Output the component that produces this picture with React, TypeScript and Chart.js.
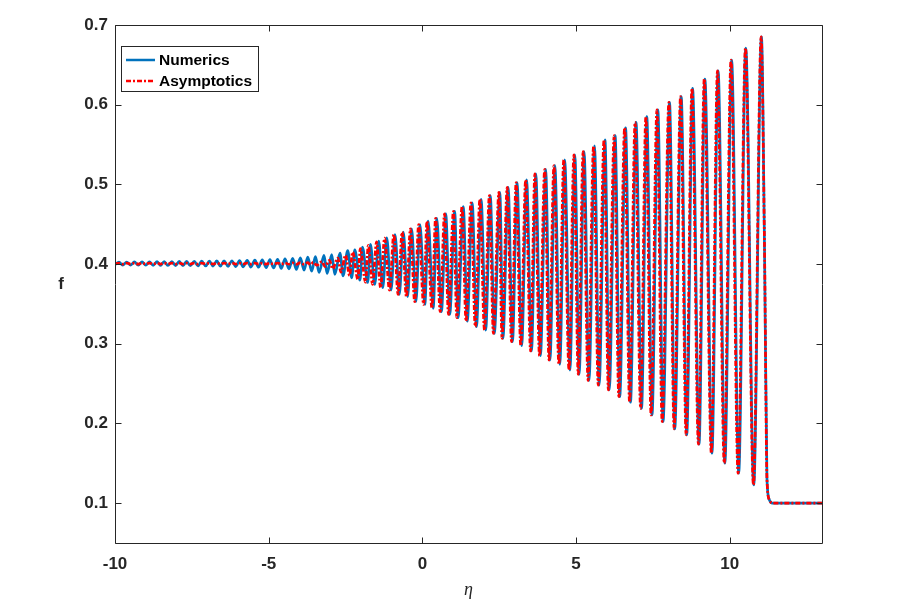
import React, { useEffect, useRef } from "react";
import { Chart, registerables } from "chart.js";

Chart.register(...registerables);

// ---- data ----
const seriesNames = ["Numerics", "Asymptotics"];

// Numerics: eta position of each wave crest
const numericsCrestEta = [
  -9.87, -9.62, -9.37, -9.12, -8.88, -8.63, -8.40, -8.15, -7.91, -7.67,
  -7.42, -7.18, -6.93, -6.69, -6.45, -6.20, -5.95, -5.70, -5.45, -5.21,
  -4.96, -4.71, -4.47, -4.22, -3.97, -3.73, -3.48, -3.20, -2.95, -2.68,
  -2.43, -2.20, -1.95, -1.69, -1.42, -1.16, -0.89, -0.62, -0.35, -0.08,
  0.19, 0.47, 0.76, 1.05, 1.33, 1.62, 1.91, 2.21, 2.52, 2.79,
  3.08, 3.39, 3.69, 4.01, 4.31, 4.63, 4.96, 5.26, 5.60, 5.94,
  6.27, 6.61, 6.95, 7.30, 7.66, 8.04, 8.42, 8.79, 9.19, 9.62,
  10.06, 10.52, 11.03,
];

// Numerics: eta position of the trough preceding each crest
const numericsTroughEta = [
  -10.0, -9.75, -9.49, -9.24, -9.00, -8.76, -8.52, -8.28, -8.03, -7.79,
  -7.55, -7.30, -7.05, -6.81, -6.57, -6.32, -6.07, -5.83, -5.58, -5.33,
  -5.08, -4.84, -4.59, -4.34, -4.10, -3.85, -3.60, -3.36, -3.10, -2.85,
  -2.58, -2.30, -2.03, -1.78, -1.55, -1.29, -1.02, -0.75, -0.48, -0.21,
  0.08, 0.35, 0.62, 0.89, 1.16, 1.46, 1.76, 2.06, 2.34, 2.62,
  2.93, 3.23, 3.55, 3.84, 4.15, 4.47, 4.80, 5.10, 5.42, 5.75,
  6.08, 6.42, 6.77, 7.13, 7.47, 7.83, 8.21, 8.60, 9.00, 9.42,
  9.84, 10.29, 10.78,
];

const numericsCrest = [
  0.4025, 0.4026, 0.4027, 0.4028, 0.4029, 0.4030, 0.4031, 0.4032, 0.4033, 0.4034,
  0.4035, 0.4036, 0.4037, 0.4039, 0.4040, 0.4042, 0.4044, 0.4046, 0.4049, 0.4052,
  0.4056, 0.4060, 0.4065, 0.4071, 0.4078, 0.4086, 0.4095, 0.4108, 0.4120, 0.4137,
  0.4170, 0.4179, 0.4212, 0.4246, 0.4287, 0.4330, 0.4371, 0.4400, 0.4442, 0.4496,
  0.4538, 0.4575, 0.4630, 0.4663, 0.4722, 0.4768, 0.4813, 0.4860, 0.4901, 0.4964,
  0.5023, 0.5056, 0.5132, 0.5189, 0.5236, 0.5307, 0.5370, 0.5411, 0.5482, 0.5558,
  0.5612, 0.5708, 0.5778, 0.5850, 0.5934, 0.6029, 0.6103, 0.6204, 0.6322, 0.6426,
  0.6560, 0.6711, 0.6852,
];

const numericsTrough = [
  0.3995, 0.3988, 0.3987, 0.3986, 0.3985, 0.3984, 0.3983, 0.3982, 0.3981, 0.3980,
  0.3979, 0.3978, 0.3976, 0.3975, 0.3973, 0.3971, 0.3969, 0.3966, 0.3963, 0.3960,
  0.3956, 0.3951, 0.3946, 0.3940, 0.3933, 0.3924, 0.3911, 0.3895, 0.3882, 0.3870,
  0.3853, 0.3828, 0.3798, 0.3769, 0.3744, 0.3703, 0.3673, 0.3619, 0.3590, 0.3528,
  0.3494, 0.3444, 0.3402, 0.3368, 0.3327, 0.3284, 0.3214, 0.3172, 0.3130, 0.3068,
  0.3026, 0.2976, 0.2909, 0.2851, 0.2796, 0.2742, 0.2670, 0.2617, 0.2538, 0.2482,
  0.2420, 0.2337, 0.2266, 0.2190, 0.2107, 0.2024, 0.1931, 0.1858, 0.1739, 0.1627,
  0.1501, 0.1376, 0.1229,
];

// Asymptotics: crests sit slightly ahead (to the left) of the numerical ones
const asymptoticsCrestEta = [
  -9.87, -9.62, -9.37, -9.12, -8.88, -8.63, -8.40, -8.15, -7.91, -7.67,
  -7.42, -7.18, -6.93, -6.69, -6.45, -6.20, -5.95, -5.70, -5.45, -5.21,
  -4.96, -4.71, -4.47, -4.22, -3.97, -3.73, -3.55, -3.27, -3.02, -2.75,
  -2.50, -2.27, -2.02, -1.76, -1.49, -1.23, -0.93, -0.66, -0.39, -0.12,
  0.15, 0.43, 0.72, 1.01, 1.29, 1.58, 1.87, 2.18, 2.49, 2.76,
  3.05, 3.36, 3.66, 3.98, 4.28, 4.60, 4.93, 5.23, 5.57, 5.91,
  6.24, 6.58, 6.92, 7.27, 7.63, 8.02, 8.40, 8.77, 9.17, 9.60,
  10.04, 10.51, 11.02,
];

const asymptoticsTroughEta = [
  -10.0, -9.75, -9.49, -9.24, -9.00, -8.76, -8.52, -8.28, -8.03, -7.79,
  -7.55, -7.30, -7.05, -6.81, -6.57, -6.32, -6.07, -5.83, -5.58, -5.33,
  -5.08, -4.84, -4.59, -4.34, -4.10, -3.85, -3.64, -3.43, -3.17, -2.92,
  -2.65, -2.37, -2.10, -1.85, -1.62, -1.36, -1.07, -0.79, -0.52, -0.25,
  0.04, 0.31, 0.58, 0.85, 1.12, 1.42, 1.72, 2.02, 2.31, 2.59,
  2.90, 3.20, 3.52, 3.81, 4.12, 4.44, 4.77, 5.07, 5.39, 5.72,
  6.05, 6.39, 6.74, 7.10, 7.44, 7.80, 8.19, 8.58, 8.98, 9.40,
  9.82, 10.27, 10.77,
];

const asymptoticsCrest = [
  0.4012, 0.4012, 0.4012, 0.4012, 0.4012, 0.4012, 0.4012, 0.4012, 0.4012, 0.4012,
  0.4012, 0.4012, 0.4012, 0.4012, 0.4012, 0.4012, 0.4012, 0.4012, 0.4012, 0.4012,
  0.4012, 0.4013, 0.4014, 0.4015, 0.4017, 0.4019, 0.4022, 0.4032, 0.4048, 0.4075,
  0.4110, 0.4150, 0.4195, 0.4235, 0.4280, 0.4325, 0.4371, 0.4400, 0.4442, 0.4496,
  0.4538, 0.4575, 0.4630, 0.4663, 0.4722, 0.4768, 0.4813, 0.4860, 0.4901, 0.4964,
  0.5023, 0.5056, 0.5132, 0.5189, 0.5236, 0.5307, 0.5370, 0.5411, 0.5482, 0.5558,
  0.5612, 0.5708, 0.5778, 0.5850, 0.5934, 0.6029, 0.6103, 0.6204, 0.6322, 0.6426,
  0.6560, 0.6711, 0.6852,
];

const asymptoticsTrough = [
  0.4002, 0.4000, 0.4000, 0.4000, 0.4000, 0.4000, 0.4000, 0.4000, 0.4000, 0.4000,
  0.4000, 0.4000, 0.4000, 0.4000, 0.4000, 0.4000, 0.4000, 0.4000, 0.4000, 0.4000,
  0.4000, 0.3999, 0.3999, 0.3998, 0.3997, 0.3996, 0.3993, 0.3985, 0.3968, 0.3940,
  0.3900, 0.3858, 0.3808, 0.3772, 0.3745, 0.3704, 0.3673, 0.3619, 0.3590, 0.3528,
  0.3494, 0.3444, 0.3402, 0.3368, 0.3327, 0.3284, 0.3214, 0.3172, 0.3130, 0.3068,
  0.3026, 0.2976, 0.2909, 0.2851, 0.2796, 0.2742, 0.2670, 0.2617, 0.2538, 0.2482,
  0.2420, 0.2337, 0.2266, 0.2190, 0.2107, 0.2024, 0.1931, 0.1858, 0.1739, 0.1627,
  0.1501, 0.1376, 0.1229,
];

// drop after the leading crest and the flat state ahead of it
const tailEta = [11.13, 11.21, 11.29, 11.38, 13.0];
const tailF = [0.42, 0.13, 0.104, 0.1, 0.1];

const xTicks = [-10, -5, 0, 5, 10];
const xTickLabels = ["-10", "-5", "0", "5", "10"];
const yTicks = [0.1, 0.2, 0.3, 0.4, 0.5, 0.6, 0.7];
const yTickLabels = ["0.1", "0.2", "0.3", "0.4", "0.5", "0.6", "0.7"];
const xTitle = "η";
const yTitle = "f";

// ---- styles ----
const BLUE = "#0072BD";
const RED = "#FF0000";
const AXIS = "#262626";
const FONT = "'Liberation Sans', Arial, Helvetica, sans-serif";
const RED_DASH = [5, 2, 2, 2];

function buildSeries(crestEta: number[], crest: number[], troughEta: number[], trough: number[]) {
  const pts: { x: number; y: number }[] = [];
  for (let i = 0; i < crestEta.length; i++) {
    pts.push({ x: troughEta[i], y: trough[i] });
    pts.push({ x: crestEta[i], y: crest[i] });
  }
  for (let i = 0; i < tailEta.length; i++) pts.push({ x: tailEta[i], y: tailF[i] });
  return pts;
}

const framePlugin = {
  id: "matlabFrame",
  afterDraw(chart: any) {
    const { ctx, chartArea: a, scales } = chart;
    const xs = scales.x;
    const ys = scales.y;
    ctx.save();
    ctx.strokeStyle = AXIS;
    ctx.lineWidth = 1;
    ctx.setLineDash([]);
    const L = Math.round(a.left) + 0.5;
    const R = Math.round(a.right) + 0.5;
    const T = Math.round(a.top) + 0.5;
    const B = Math.round(a.bottom) + 0.5;
    ctx.beginPath();
    ctx.rect(L, T, R - L, B - T);
    const tl = 6;
    xTicks.forEach((v) => {
      const px = Math.round(xs.getPixelForValue(v)) + 0.5;
      ctx.moveTo(px, B);
      ctx.lineTo(px, B - tl);
      ctx.moveTo(px, T);
      ctx.lineTo(px, T + tl);
    });
    yTicks.forEach((v) => {
      const py = Math.round(ys.getPixelForValue(v)) + 0.5;
      ctx.moveTo(L, py);
      ctx.lineTo(L + tl, py);
      ctx.moveTo(R, py);
      ctx.lineTo(R - tl, py);
    });
    ctx.stroke();

    // axis titles
    ctx.fillStyle = AXIS;
    ctx.textAlign = "center";
    ctx.textBaseline = "middle";
    ctx.font = `italic 18px 'Liberation Serif', 'Times New Roman', serif`;
    ctx.fillText(xTitle, (a.left + a.right) / 2, 590);
    ctx.font = `bold 17px ${FONT}`;
    ctx.save();
    ctx.translate(61, (a.top + a.bottom) / 2);
    ctx.fillText(yTitle, 0, 0);
    ctx.restore();

    // legend
    const lx = 121.5, ly = 46.5, lw = 137, lh = 45;
    ctx.fillStyle = "#ffffff";
    ctx.fillRect(lx, ly, lw, lh);
    ctx.strokeStyle = AXIS;
    ctx.lineWidth = 1;
    ctx.strokeRect(lx, ly, lw, lh);
    const rows = [
      { name: seriesNames[0], color: BLUE, dash: [] as number[], y: 60 },
      { name: seriesNames[1], color: RED, dash: RED_DASH, y: 81 },
    ];
    rows.forEach((r) => {
      ctx.strokeStyle = r.color;
      ctx.lineWidth = 2.5;
      ctx.setLineDash(r.dash);
      ctx.beginPath();
      ctx.moveTo(126, r.y);
      ctx.lineTo(155, r.y);
      ctx.stroke();
      ctx.setLineDash([]);
      ctx.fillStyle = "#000000";
      ctx.textAlign = "left";
      ctx.textBaseline = "middle";
      ctx.font = `bold 15.5px ${FONT}`;
      ctx.fillText(r.name, 159, r.y + 1);
    });
    ctx.restore();
  },
};

export default function App() {
  const canvasRef = useRef<HTMLCanvasElement | null>(null);

  useEffect(() => {
    const canvas = canvasRef.current;
    if (!canvas) return;
    const chart = new Chart(canvas, {
      type: "line",
      data: {
        datasets: [
          {
            label: seriesNames[0],
            data: buildSeries(numericsCrestEta, numericsCrest, numericsTroughEta, numericsTrough),
            borderColor: BLUE,
            borderWidth: 2.7,
            pointRadius: 0,
            fill: false,
            cubicInterpolationMode: "monotone",
            order: 2,
          },
          {
            label: seriesNames[1],
            data: buildSeries(asymptoticsCrestEta, asymptoticsCrest, asymptoticsTroughEta, asymptoticsTrough),
            borderColor: RED,
            borderWidth: 2.7,
            borderDash: RED_DASH,
            pointRadius: 0,
            fill: false,
            cubicInterpolationMode: "monotone",
            order: 1,
          },
        ],
      },
      options: {
        animation: false,
        responsive: false,
        devicePixelRatio: 1,
        events: [],
        layout: { padding: { left: 0, top: 25, right: 92, bottom: 0 } },
        plugins: {
          legend: { display: false },
          tooltip: { enabled: false },
        },
        scales: {
          x: {
            type: "linear",
            min: -10,
            max: 13,
            grid: { display: false, drawTicks: false },
            border: { display: false },
            afterBuildTicks: (s: any) => {
              s.ticks = xTicks.map((v) => ({ value: v }));
            },
            afterFit: (s: any) => {
              s.height = 61;
            },
            ticks: {
              autoSkip: false,
              maxRotation: 0,
              padding: 11,
              color: AXIS,
              font: { family: FONT, size: 17, weight: "bold" },
              callback: (v: any) => {
                const i = xTicks.indexOf(Number(v));
                return i >= 0 ? xTickLabels[i] : "";
              },
            },
          },
          y: {
            type: "linear",
            min: 0.05,
            max: 0.7,
            grid: { display: false, drawTicks: false },
            border: { display: false },
            afterBuildTicks: (s: any) => {
              s.ticks = yTicks.map((v) => ({ value: v }));
            },
            afterFit: (s: any) => {
              s.width = 115;
            },
            ticks: {
              autoSkip: false,
              padding: 7,
              color: AXIS,
              font: { family: FONT, size: 17, weight: "bold" },
              callback: (v: any) => {
                const i = yTicks.findIndex((t) => Math.abs(t - Number(v)) < 1e-9);
                return i >= 0 ? yTickLabels[i] : "";
              },
            },
          },
        },
      },
      plugins: [framePlugin],
    } as any);
    return () => chart.destroy();
  }, []);

  return (
    <div style={{ position: "absolute", left: 0, top: 0, width: 914, height: 604, background: "#ffffff" }}>
      <canvas ref={canvasRef} width={914} height={604} style={{ display: "block", width: 914, height: 604 }} />
    </div>
  );
}
